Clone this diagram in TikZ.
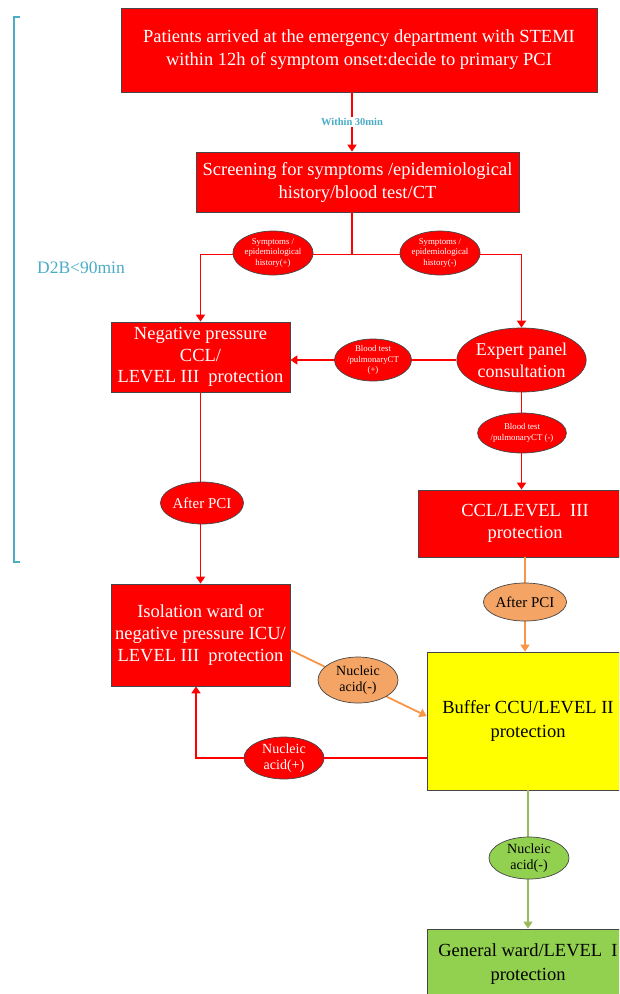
\documentclass[tikz,border=0pt]{standalone}
\usepackage{fontspec}
\setmainfont{Liberation Serif}
\usetikzlibrary{positioning, shapes.geometric, arrows.meta}
\definecolor{BoxRed}{RGB}{255,0,0}
\definecolor{BorderGray}{RGB}{70,70,70}
\definecolor{BracketTeal}{RGB}{75,172,198}
\definecolor{LightOrange}{RGB}{244,164,100}
\definecolor{LineOrange}{RGB}{247,150,70}
\definecolor{BoxYellow}{RGB}{255,255,0}
\definecolor{BoxGreen}{RGB}{146,208,80}
\definecolor{LineGreen}{RGB}{155,187,89}

\tikzset{
  stagebox/.style={draw=BorderGray, fill=BoxRed, text=white, align=center, inner sep=2pt, line width=0.8pt},
  tag/.style={ellipse, draw=BorderGray, fill=BoxRed, text=white, align=center, inner sep=0pt, line width=0.7pt},
  redflow/.style={draw=BoxRed, line width=1.8pt, -{Triangle[length=7pt,width=9pt]}},
  orangeflow/.style={draw=LineOrange, line width=1.8pt, -{Triangle[length=7pt,width=9pt]}},
  greenflow/.style={draw=LineGreen, line width=1.8pt, -{Triangle[length=7pt,width=9pt]}}
}

\begin{document}
\begin{tikzpicture}[x=1pt, y=-1pt]
    \useasboundingbox (0,0) rectangle (619,994);
    \clip (0,0) rectangle (619,994);

    % D2B bracket
    \draw[BracketTeal, line width=1.4pt] (20,17) -- (14,17) -- (14,562) -- (20,562);
    \node[text=BracketTeal, font=\fontsize{17.5}{20}\selectfont] (d2b) at (81,268) {D2B<90min};

    % Stage boxes
    \node[stagebox, minimum width=476pt, minimum height=84pt, font=\fontsize{18.5}{23}\selectfont] (arrival) at (359,50)
        {Patients arrived at the emergency department with STEMI\\within 12h of symptom onset:decide to primary PCI};
    \node[stagebox, minimum width=323pt, minimum height=60pt, font=\fontsize{18.5}{23}\selectfont] (screen) at (357.5,182)
        {Screening for symptoms /epidemiological\\history/blood test/CT};
    \node[stagebox, minimum width=179pt, minimum height=70pt, font=\fontsize{18.5}{21.5}\selectfont] (negccl) at (200.5,357)
        {Negative pressure\\CCL/\\LEVEL III\ \ protection};
    \node[tag, minimum width=127pt, minimum height=64pt, font=\fontsize{18}{22}\selectfont] (expert) at (521.5,360)
        {Expert panel\\consultation};
    \node[stagebox, minimum width=214pt, minimum height=67pt, font=\fontsize{18.5}{22}\selectfont] (ccl) at (525,523.5)
        {CCL/LEVEL\ \ III\\protection};
    \node[stagebox, minimum width=179pt, minimum height=102pt, font=\fontsize{18.5}{22}\selectfont] (isolation) at (200.5,635)
        {Isolation ward or\\negative pressure ICU/\\LEVEL III\ \ protection};
    \node[stagebox, fill=BoxYellow, text=black, minimum width=202pt, minimum height=138pt, font=\fontsize{18.5}{24}\selectfont] (buffer) at (528,721)
        {Buffer CCU/LEVEL II\\protection};
    \node[stagebox, fill=BoxGreen, text=black, minimum width=202pt, minimum height=70pt, font=\fontsize{18.5}{24}\selectfont] (general) at (528,964)
        {General ward/LEVEL\ \ I\\protection};

    % Connectors
    \draw[redflow] ([xshift=-7pt]arrival.south) -- ([xshift=-7pt]arrival.south |- screen.north)
        node[midway, fill=white, inner sep=1pt, text=BracketTeal, font=\bfseries\fontsize{10.5}{12}\selectfont] (within) {Within 30min};
    \draw[draw=BoxRed, line width=1.8pt] ([xshift=-5.5pt]screen.south) -- ++(0,42) coordinate (split);
    \draw[redflow] (split) -| (negccl.north);
    \draw[redflow] (split) -| (expert.north);
    \draw[redflow] (expert.west) -- (expert.west -| negccl.east);
    \draw[redflow] (expert.south) -- (expert.south |- ccl.north);
    \draw[redflow] (negccl.south) -- (isolation.north);
    \draw[orangeflow] (ccl.south) -- (ccl.south |- buffer.north);
    \draw[orangeflow] ([yshift=-15pt]isolation.east) -- ([yshift=5pt]buffer.west);
    \draw[redflow] ([yshift=-37pt]buffer.west) -| ([xshift=-4.5pt]isolation.south);
    \draw[greenflow] (buffer.south) -- (general.north);

    % Condition tags
    \node[tag, minimum width=78pt, minimum height=44pt, font=\fontsize{8.8}{10.5}\selectfont] (symplus) at (273,253)
        {Symptoms /\\epidemiological\\history(+)};
    \node[tag, minimum width=78pt, minimum height=44pt, font=\fontsize{8.8}{10.5}\selectfont] (symminus) at (440,253)
        {Symptoms /\\epidemiological\\history(-)};
    \node[tag, minimum width=77pt, minimum height=42pt, font=\fontsize{8.8}{10.5}\selectfont] (bloodplus) at (373,360)
        {Blood test\\/pulmonaryCT\\(+)};
    \node[tag, minimum width=78pt, minimum height=40pt, font=\fontsize{8.8}{10.5}\selectfont] (bloodminus) at (522,433)
        {Blood test\\/pulmonaryCT (-)};
    \node[tag, minimum width=72pt, minimum height=42pt, font=\fontsize{15}{17}\selectfont] (afterred) at (202,503)
        {After PCI};
    \node[tag, fill=LightOrange, text=black, minimum width=74pt, minimum height=38pt, font=\fontsize{15}{17}\selectfont] (afterorange) at (525,602)
        {After PCI};
    \node[tag, fill=LightOrange, text=black, minimum width=80pt, minimum height=46pt, font=\fontsize{14}{16.5}\selectfont] (nucminus) at (358,680)
        {Nucleic\\acid(-)};
    \node[tag, minimum width=80pt, minimum height=42pt, font=\fontsize{14}{16.5}\selectfont] (nucplus) at (284,758)
        {Nucleic\\acid(+)};
    \node[tag, fill=BoxGreen, text=black, minimum width=80pt, minimum height=42pt, font=\fontsize{14}{16.5}\selectfont] (nucgreen) at (529,858)
        {Nucleic\\acid(-)};
\end{tikzpicture}
\end{document}
